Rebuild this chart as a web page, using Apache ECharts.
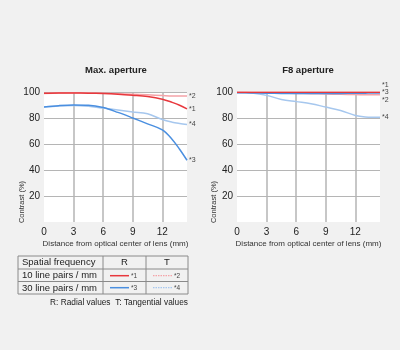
<!DOCTYPE html>
<html><head><meta charset="utf-8">
<script src="https://cdn.jsdelivr.net/npm/echarts@6/dist/echarts.min.js"></script>
<style>html,body{margin:0;padding:0;background:#f1f1f1}#c{width:400px;height:350px}</style>
</head><body><div id="c"></div>
<script>
// distance from optical center (mm)
const xPos = [0, 1.5, 3, 4.5, 6, 7.5, 9, 10.5, 12, 13, 13.75, 14.5];
// Max. aperture
const maxR10 = [99, 99.2, 99.2, 99.1, 98.8, 98.3, 97.5, 96.5, 94.5, 92, 89.8, 87];
const maxT10 = [98.8, 99.2, 99.4, 99.2, 99, 98.7, 98.3, 97.8, 97.3, 97, 97, 97];
const maxR30 = [88.5, 89.5, 90, 89.8, 88, 84.3, 80, 75.5, 70.8, 63.5, 56, 47.5];
const maxT30 = [88.5, 89.3, 89.6, 89, 87.6, 86.2, 84.7, 83.3, 78.8, 76.8, 75.8, 75];
// F8 aperture
const f8R10 = [99.8, 99.8, 99.8, 99.8, 99.8, 99.8, 99.8, 99.8, 99.8, 99.8, 99.8, 99.8];
const f8T10 = [99.6, 99.5, 99.3, 99.1, 98.9, 98.7, 98.5, 98.2, 98, 97.9, 97.8, 97.8];
const f8R30 = [99.5, 99.3, 99.1, 98.9, 98.8, 98.8, 98.8, 98.9, 99, 99.1, 99.2, 99.2];
const f8T30 = [99.7, 99.2, 97.4, 94.3, 92.6, 91, 88.4, 85.8, 82, 80.8, 80.6, 80.6];

const titles = ['Max. aperture', 'F8 aperture'];
const xName = 'Distance from optical center of lens (mm)';
const yName = 'Contrast (%)';
const tableHead = ['Spatial frequency', 'R', 'T'];
const tableRows = ['10 line pairs / mm', '30 line pairs / mm'];
const marks = ['*1', '*2', '*3', '*4'];
const note = 'R: Radial values  T: Tangential values';

const FONT = 'Liberation Sans';
const RED = '#e8383d', LRED = '#f4a3a8', BLUE = '#4a8fe0', LBLUE = '#a6c7ee';
const GRID = '#b5b5b5';

const zip = v => xPos.map((x, i) => [x, v[i]]);

function mkX(i) {
  return {
    gridIndex: i, type: 'value', min: 0, max: 14.5, interval: 3,
    name: xName, nameLocation: 'middle', nameGap: 18,
    nameTextStyle: {fontSize: 8, color: '#333', fontFamily: FONT},
    axisLine: {show: false}, axisTick: {show: false},
    axisLabel: {fontSize: 10, color: '#222', margin: 5, fontFamily: FONT, showMaxLabel: false},
    splitLine: {show: true, showMinLine: false, showMaxLine: false, lineStyle: {color: GRID, width: 1.5}}
  };
}
function mkY(i) {
  return {
    gridIndex: i, type: 'value', min: 0, max: 100, interval: 20,
    axisLine: {show: false}, axisTick: {show: false},
    axisLabel: {fontSize: 10, color: '#222', margin: 4, fontFamily: FONT, showMinLabel: false},
    splitLine: {show: true, showMinLine: false, lineStyle: {color: GRID, width: 1.2}}
  };
}
function mkS(i, data, color, label, dy, z) {
  return {
    type: 'line', xAxisIndex: i, yAxisIndex: i, data: zip(data), smooth: 0.35,
    symbol: 'none', z: z, lineStyle: {color: color, width: 1.5},
    endLabel: {show: true, formatter: label, fontSize: 7, color: '#444', distance: 2, offset: [0, dy], fontFamily: FONT},
    emphasis: {disabled: true}, animation: false
  };
}

// table geometry
const tx0 = 18, tx1 = 103, tx2 = 146, tx3 = 188;
const ty = [256, 269, 281.5, 294];
const g = [];
const ls = {stroke: '#8a8a8a', lineWidth: 1};
ty.forEach(y => g.push({type: 'line', shape: {x1: tx0, y1: y, x2: tx3, y2: y}, style: ls}));
[tx0, tx1, tx2, tx3].forEach(x => g.push({type: 'line', shape: {x1: x, y1: ty[0], x2: x, y2: ty[3]}, style: ls}));
const ts = (t, x, y, align, size) => ({type: 'text', x: x, y: y, style: {text: t, fontSize: size || 9.5, fill: '#222', fontFamily: FONT, textAlign: align || 'left', textVerticalAlign: 'middle'}});
g.push(ts(tableHead[0], 22, 262.8));
g.push(ts(tableHead[1], 124.5, 262.8, 'center'));
g.push(ts(tableHead[2], 167, 262.8, 'center'));
g.push(ts(tableRows[0], 22, 275.5));
g.push(ts(tableRows[1], 22, 288));
const sample = (x, y, color, dash, m) => {
  g.push({type: 'line', shape: {x1: x, y1: y, x2: x + 19, y2: y}, style: {stroke: color, lineWidth: dash ? 1.2 : 1.5, lineDash: dash ? [1.5, 1] : null}});
  g.push({type: 'text', x: x + 21, y: y + 0.5, style: {text: m, fontSize: 6.5, fill: '#444', fontFamily: FONT, textVerticalAlign: 'middle'}});
};
sample(110, 275.7, RED, false, marks[0]);
sample(153, 275.7, LRED, true, marks[1]);
sample(110, 287.7, BLUE, false, marks[2]);
sample(153, 287.7, LBLUE, true, marks[3]);
g.push(ts(note, 188, 303, 'right', 8.3));
// y-axis names
[22, 214].forEach(x => g.push({type: 'text', x: x, y: 202, rotation: Math.PI / 2,
  style: {text: yName, fontSize: 7.5, fill: '#333', fontFamily: FONT, textAlign: 'center', textVerticalAlign: 'middle'}}));

const chart = echarts.init(document.getElementById('c'), null, {renderer: 'canvas'});
chart.setOption({
  backgroundColor: '#f1f1f1',
  animation: false,
  title: [
    {text: titles[0], left: 116, top: 65, textAlign: 'center', padding: 0, textStyle: {fontSize: 9.5, fontWeight: 'bold', color: '#222', fontFamily: FONT}},
    {text: titles[1], left: 308, top: 65, textAlign: 'center', padding: 0, textStyle: {fontSize: 9.5, fontWeight: 'bold', color: '#222', fontFamily: FONT}}
  ],
  grid: [
    {left: 44, top: 92, width: 143, height: 130, show: true, backgroundColor: '#fff', borderWidth: 0},
    {left: 237, top: 92, width: 143, height: 130, show: true, backgroundColor: '#fff', borderWidth: 0}
  ],
  xAxis: [mkX(0), mkX(1)],
  yAxis: [mkY(0), mkY(1)],
  series: [
    mkS(0, maxT30, LBLUE, marks[3], 0, 2),
    mkS(0, maxT10, LRED, marks[1], 0, 2),
    mkS(0, maxR30, BLUE, marks[2], 0, 3),
    mkS(0, maxR10, RED, marks[0], 0, 3),
    mkS(1, f8T30, LBLUE, marks[3], 0, 2),
    mkS(1, f8T10, LRED, marks[1], 5, 2),
    mkS(1, f8R30, BLUE, marks[2], -1, 3),
    mkS(1, f8R10, RED, marks[0], -7, 4)
  ],
  graphic: g
});
</script></body></html>
